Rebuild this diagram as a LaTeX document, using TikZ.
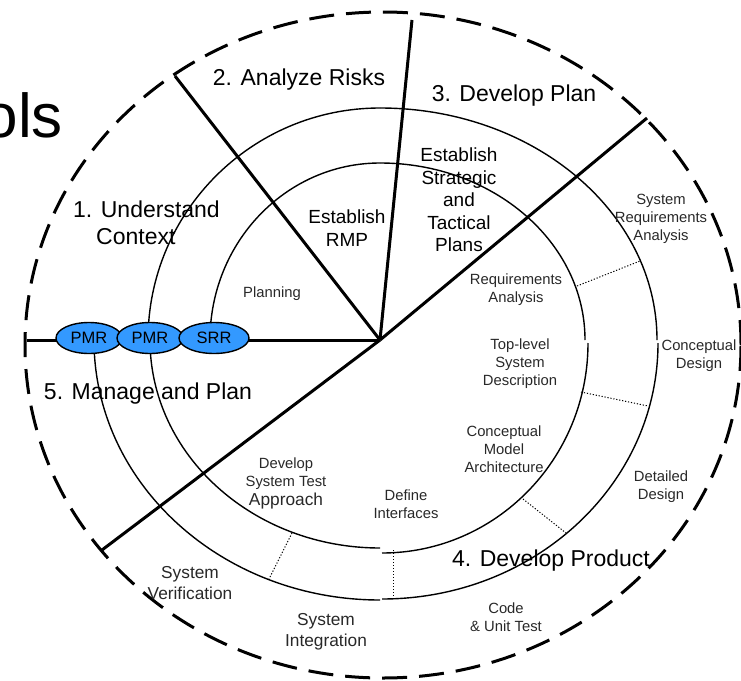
\documentclass[tikz,border=0pt]{standalone}
\usepackage{fontspec}
\setmainfont{Liberation Sans}
\usetikzlibrary{shapes.geometric}
\definecolor{pmrblue}{RGB}{51,153,255}
\definecolor{txtgray}{RGB}{40,40,40}
\begin{document}
\begin{tikzpicture}[x=1pt,y=1pt,
  heavy/.style={line width=3pt},
  ring/.style={line width=1.4pt},
  outerring/.style={line width=3pt, dash pattern=on 25pt off 12pt},
  sep/.style={line width=1pt, dash pattern=on 1.2pt off 1.8pt},
  big/.style={font=\fontsize{23}{27}\selectfont, text=black, inner sep=0pt},
  mid/.style={font=\fontsize{19}{22.5}\selectfont, align=center, text=black, inner sep=0pt},
  med/.style={font=\fontsize{17.3}{21}\selectfont, align=center, text=txtgray, inner sep=0pt},
  small/.style={font=\fontsize{14.8}{18}\selectfont, align=center, text=txtgray, inner sep=0pt},
  review/.style={ellipse, draw=black, line width=1.4pt, fill=pmrblue, minimum width=66pt, minimum height=31pt, inner sep=0pt, font=\fontsize{16.5}{18}\selectfont}
]
\useasboundingbox (0,0) rectangle (741,-680);
\clip (0,0) rectangle (741,-680);

% title fragment
\node[anchor=base east, inner sep=0pt, font=\fontsize{62}{62}\selectfont] (title) at (63,-137) {ols};

% outer dashed ring
\draw[outerring] (383,-345) ellipse [x radius=358pt, y radius=333pt];

% coordinates
\coordinate (c) at (380,-340);
\coordinate (eW) at (27,-340);
\coordinate (eNW) at (175,-76);
\coordinate (eN) at (412,-20);
\coordinate (eNE) at (647,-118);
\coordinate (eSW) at (102,-550);

% inner ring (spiral quarters)
\draw[ring] (210,-340) arc[start angle=180, end angle=90, x radius=170pt, y radius=177pt];
\draw[ring] (380,-163) arc[start angle=90, end angle=0, x radius=205pt, y radius=177pt];
\draw[ring] (588,-343) arc[start angle=0, end angle=-90, x radius=206pt, y radius=210pt];
\draw[ring] (380,-548) arc[start angle=-90, end angle=-180, x radius=230pt, y radius=208pt];
% middle ring
\draw[ring] (148,-340) arc[start angle=180, end angle=90, radius=232pt];
\draw[ring] (380,-108) arc[start angle=90, end angle=0, x radius=277pt, y radius=232pt];
\draw[ring] (658,-343) arc[start angle=0, end angle=-90, x radius=276pt, y radius=256pt];
\draw[ring] (380,-600) arc[start angle=-90, end angle=-180, x radius=286pt, y radius=260pt];

% dotted separators
\coordinate (s1a) at (577,-286); \coordinate (s1b) at (640,-261);
\coordinate (s2a) at (581,-392); \coordinate (s2b) at (648,-406);
\coordinate (s3a) at (523,-499); \coordinate (s3b) at (566,-533);
\coordinate (s4a) at (393,-550); \coordinate (s4b) at (393,-599);
\coordinate (s5a) at (292,-533); \coordinate (s5b) at (269,-579);
\draw[sep] (s1a) -- (s1b);
\draw[sep] (s2a) -- (s2b);
\draw[sep] (s3a) -- (s3b);
\draw[sep] (s4a) -- (s4b);
\draw[sep] (s5a) -- (s5b);

% heavy radial lines
\draw[heavy] (c) -- (eW);
\draw[heavy] (c) -- (eNW);
\draw[heavy] (c) -- (eN);
\draw[heavy] (c) -- (eNE);
\draw[heavy] (c) -- (eSW);

% review ellipses
\node[review] (pmr1) at (89,-338) {PMR};
\node[review] (pmr2) at (150,-338) {PMR};
\node[review, minimum width=70pt] (srr) at (214,-338) {SRR};

% phase labels
\node[big] (p2) at (299,-80) {2. Analyze Risks};
\node[big] (p3) at (514,-96) {3. Develop Plan};
\node[big, anchor=west, align=left] (p1) at (73,-223) {1. Understand\\\phantom{1.\,}Context};
\node[big] (p5) at (148,-394) {5. Manage and Plan};
\node[big] (p4) at (551,-561) {4. Develop Product};

% activity labels
\node[mid] (rmp) at (347,-228) {Establish\\RMP};
\node[mid] (plans) at (459,-200) {Establish\\Strategic\\and\\Tactical\\Plans};
\node[small] (planning) at (272,-294) {Planning};
\node[small] (reqa) at (516,-290) {Requirements\\Analysis};
\node[small] (sysreq) at (661,-219) {System\\Requirements\\Analysis};
\node[small] (tls) at (520,-364) {Top-level\\System\\Description};
\node[small] (cdes) at (699,-356) {Conceptual\\Design};
\node[small] (cma) at (504,-449) {Conceptual\\Model\\Architecture};
\node[small] (ddes) at (661,-487) {Detailed\\Design};
\node[small] (dint) at (406,-504) {Define\\Interfaces};
\node[small] (dsta) at (286,-483) {Develop\\System Test\\[1pt]{\fontsize{17.3}{21}\selectfont Approach}};
\node[med] (sver) at (190,-583) {System\\Verification};
\node[med] (sint) at (326,-632) {System\\Integration};
\node[small] (cut) at (506,-617) {Code\\\& Unit Test};
\end{tikzpicture}
\end{document}
